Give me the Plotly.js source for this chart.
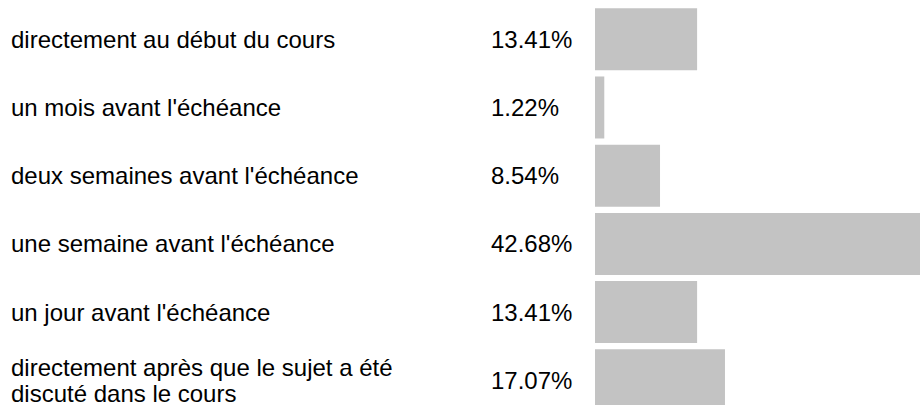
<!DOCTYPE html>
<html>
<head>
<meta charset="utf-8">
<script src="https://cdn.plot.ly/plotly-3.0.1.min.js"></script>
<style>html,body{margin:0;padding:0;background:#fff;}#chart{width:920px;height:405px;}</style>
</head>
<body>
<div id="chart"></div>
<script>
const categories = [
  "directement au début du cours",
  "un mois avant l'échéance",
  "deux semaines avant l'échéance",
  "une semaine avant l'échéance",
  "un jour avant l'échéance",
  "directement après que le sujet a été<br>discuté dans le cours"
];
const values = [13.41, 1.22, 8.54, 42.68, 13.41, 17.07];
const valueLabels = ["13.41%", "1.22%", "8.54%", "42.68%", "13.41%", "17.07%"];

const idx = categories.map((c, i) => i);
const FONT = {family: "Liberation Sans, Arial, sans-serif", size: 24, color: "#000"};
const plotLeft = 595, plotWidth = 325;
const px = p => (p - plotLeft) / plotWidth;
const LINE_GAP = 26;

const annotations = [];
categories.forEach((c, i) => {
  const lines = c.split("<br>");
  lines.forEach((ln, k) => {
    const shift = ((lines.length - 1) / 2 - k) * LINE_GAP;
    annotations.push({xref: "paper", yref: "y", x: px(9), y: i, text: ln, showarrow: false,
      xanchor: "left", yanchor: "middle", align: "left", yshift: shift, font: FONT});
  });
  annotations.push({xref: "paper", yref: "y", x: px(489), y: i, text: valueLabels[i], showarrow: false,
    xanchor: "left", yanchor: "middle", align: "left", font: FONT});
});

const trace = {
  type: "bar", orientation: "h", x: values, y: idx, width: 0.909,
  marker: {color: "#c3c3c3", line: {width: 0}},
  hoverinfo: "none"
};

const layout = {
  width: 920, height: 405,
  margin: {l: plotLeft, r: 0, t: 0, b: 0, pad: 0},
  paper_bgcolor: "#fff", plot_bgcolor: "#fff",
  showlegend: false,
  xaxis: {range: [0, 42.68], visible: false, fixedrange: true},
  yaxis: {range: [5.362, -0.576], visible: false, fixedrange: true},
  annotations: annotations,
  font: FONT
};

Plotly.newPlot("chart", [trace], layout, {displayModeBar: false, staticPlot: true});
</script>
</body>
</html>
